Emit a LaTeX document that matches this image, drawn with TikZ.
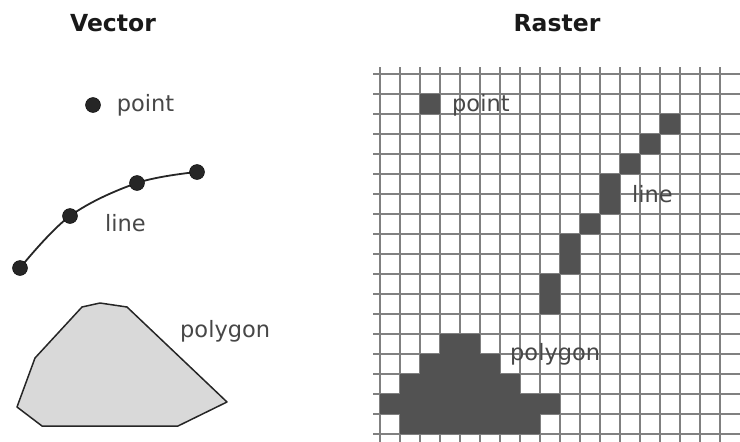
\documentclass[tikz,border=0pt]{standalone}
\usepackage{fontspec}
\setmainfont{DejaVu Sans}
\usetikzlibrary{positioning}
\pgfdeclarelayer{background}
\pgfsetlayers{background,main}
\tikzstyle{titel}=[font=\fontsize{23.5}{28}\selectfont\bfseries, text=black!90,
  inner sep=0pt]
\tikzstyle{textlabel}=[font=\fontsize{22.5}{27}\selectfont, text=black!72,
  inner sep=0pt, anchor=west]
\tikzstyle{dot}=[circle, fill=black!85, draw=black, inner sep=0pt,
  minimum size=15pt]
\tikzstyle{curve}=[draw=black!85, line width=1.8pt]
\tikzstyle{outline}=[draw=black!85, line width=1.5pt, fill=black!15,
  line join=round]
\tikzstyle{gridline}=[draw=black!50, line width=1.2pt]
\tikzstyle{pixel}=[fill=black!68]
\newcommand{\rastercell}[2]{%
  \path[pixel] (380+20*#1,74+20*#2) rectangle ++(20,20);}
\newcommand{\rasterrow}[3]{%
  % one row of cells, from column #2 to column #3
  \path[pixel] (380+20*#2,74+20*#1) rectangle (400+20*#3,94+20*#1);}

\begin{document}
\begin{tikzpicture}[x=1pt,y=-1pt]
\useasboundingbox (0,0) rectangle (740,442);
% Draw titles
\path (113,23) node (t1) [titel] {Vector};
\path (557,23) node (t2) [titel] {Raster};

% Draw vector elements
\path (93,105) node (v1) [dot] {};
\path (v1.east)+(16,0) node (v2) [textlabel] {point};

\path (20,268) node (l1) [dot] {};
\path (70,216) node (l2) [dot] {};
\path (137,183) node (l3) [dot] {};
\path (197,172) node (l4) [dot] {};
\path (105,223) node (l5) [textlabel] {line};

\path[outline] (17,407) -- (35,358) -- (82,307) -- (100,303) -- (127,307)
  -- (227,402) -- (178,426) -- (42,426) -- cycle;
\path (180,331) node (g1) [textlabel] {polygon};

\begin{pgfonlayer}{background}
  % Curve below the dots
  \draw[curve] plot[smooth, tension=0.6] coordinates {(l1) (l2) (l3) (l4)};
  % Raster grid
  \foreach \x in {380,400,...,720} \draw[gridline] (\x,67) -- (\x,442);
  \foreach \y in {74,94,...,434} \draw[gridline] (373,\y) -- (740,\y);
\end{pgfonlayer}

% Draw raster elements
\rastercell{2}{1}
\path (452,105) node (r1) [textlabel] {point};

\rastercell{14}{2}
\rastercell{13}{3}
\rastercell{12}{4}
\rastercell{11}{5}
\rastercell{11}{6}
\rastercell{10}{7}
\rastercell{9}{8}
\rastercell{9}{9}
\rastercell{8}{10}
\rastercell{8}{11}
\path (632,194) node (r2) [textlabel] {line};

\rasterrow{13}{3}{4}
\rasterrow{14}{2}{5}
\rasterrow{15}{1}{6}
\rasterrow{16}{0}{8}
\rasterrow{17}{1}{7}
\path (510,354) node (r3) [textlabel] {polygon};
\end{tikzpicture}
\end{document}
